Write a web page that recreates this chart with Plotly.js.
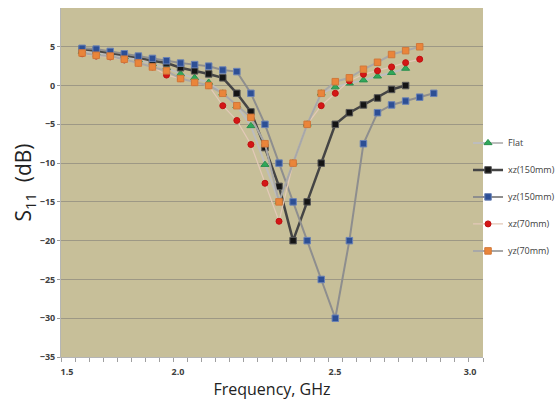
<!DOCTYPE html>
<html>
<head>
<meta charset="utf-8">
<script src="https://cdn.plot.ly/plotly-3.0.1.min.js"></script>
<style>html,body{margin:0;padding:0;background:#fff;}#chart{width:558px;height:402px;}</style>
</head>
<body>
<div id="chart"></div>
<script>
// Frequency points (GHz), one per measurement step
const freq = [1.55,1.60,1.65,1.70,1.75,1.80,1.85,1.90,1.95,2.00,2.05,2.10,2.15,2.20,2.25,2.30,2.35,2.40,2.45,2.50,2.55,2.60,2.65,2.70,2.75,2.80];

// S11 (dB) for each configuration
const flat     = [4.4,4.2,4.0,3.7,3.3,2.8,2.3,1.5,1.0,0.4,-1.0,-2.6,-5.2,-10.2,-15,-10,-5,-1.0,-0.2,0.3,0.7,1.2,1.65,2.2];
const xz150    = [4.7,4.5,4.2,3.9,3.6,3.2,2.9,2.3,1.9,1.5,1.0,-1.0,-3.4,-8.0,-13.0,-20,-15,-10,-5,-3.5,-2.5,-1.6,-0.5,0.0];
const yz150    = [4.8,4.7,4.4,4.1,3.8,3.5,3.2,2.9,2.7,2.5,2.0,1.8,-1.0,-5,-10,-15,-20,-25,-30,-20,-7.5,-3.5,-2.5,-2.0,-1.5,-1.0];
const xz70     = [4.1,3.8,3.7,3.3,2.9,2.4,1.35,0.9,0.4,0.0,-2.6,-4.5,-7.6,-12.6,-17.5,-10,-5,-2.6,-1.0,0.6,1.45,1.9,2.4,2.95,3.4];
const yz70     = [4.2,3.9,3.8,3.4,2.9,2.4,1.9,0.9,0.4,0.0,-1.0,-2.6,-4.1,-7.5,-15,-10,-5,-1.0,0.5,1.0,2.1,3.0,4.0,4.5,5.0];

const seriesNames = ['Flat','xz(150mm)','yz(150mm)','xz(70mm)','yz(70mm)'];

// Axis tick labels
const yTickVals = [-35,-30,-25,-20,-15,-10,-5,0,5];
const xTickText = ['1.5','2.0','2.5','3.0'];
const xTickVals = [1.496,1.891,2.449,2.929];

function tr(y, name, lineColor, lineWidth, mSymbol, mColor, mLine, mSize){
  return {
    x: freq.slice(0, y.length), y: y, name: name, type: 'scatter', mode: 'lines+markers',
    legendgroup: name,
    line: {color: lineColor, width: lineWidth},
    marker: {symbol: mSymbol, color: mColor, size: mSize, line: {color: mLine, width: 1}}
  };
}

const data = [
  tr(flat, seriesNames[0], '#bdbdbd', 2, 'triangle-up', '#2fa85a', '#2a8f4d', 7),
  tr(xz150, seriesNames[1], '#454545', 2.5, 'square', '#151515', '#555555', 6.5),
  tr(yz150, seriesNames[2], '#8e8e8e', 2, 'square', '#2d4f95', '#6a82b5', 6.5),
  tr(xz70, seriesNames[3], '#e3c9b8', 1.2, 'circle', '#d41616', '#c01010', 6),
  tr(yz70, seriesNames[4], '#a8a8a8', 2, 'square', '#ea853a', '#d0783a', 6.5)
];

const layout = {
  width: 558, height: 402,
  margin: {l: 61, r: 75, t: 8, b: 45, autoexpand: false},
  paper_bgcolor: '#ffffff',
  plot_bgcolor: '#c7bf99',
  font: {family: 'Open Sans, sans-serif', color: '#404040'},
  showlegend: true,
  legend: {
    x: 0.9645, xanchor: 'left', y: 0.655, yanchor: 'top',
    bgcolor: 'rgba(0,0,0,0)', font: {size: 9, color: '#404040'},
    tracegroupgap: 8, itemwidth: 30
  },
  xaxis: {
    range: [1.475, 2.975],
    tickmode: 'array', tickvals: xTickVals, ticktext: xTickText,
    ticks: '', ticklabelstandoff: 6,
    tickfont: {size: 9, color: '#404040', weight: 700},
    showgrid: false, zeroline: false,
    showline: true, linecolor: '#b5b5b5', linewidth: 1,
    minor: {tickmode: 'linear', tick0: 1.475, dtick: 0.05, ticks: 'outside', ticklen: 4, tickcolor: '#a0a0a0', showgrid: false},
    title: {text: 'Frequency, GHz', font: {size: 16, color: '#222'}, standoff: 6}
  },
  yaxis: {
    range: [-35, 10],
    tickmode: 'array', tickvals: yTickVals,
    ticks: 'outside', ticklen: 3, tickcolor: '#9a9a9a',
    tickfont: {size: 9, color: '#404040', weight: 700},
    showgrid: true, gridcolor: '#9d9885', gridwidth: 1,
    zeroline: false, showline: true, linecolor: '#b5b5b5', linewidth: 1,
    title: {text: 'S<sub>11</sub>  (dB)', font: {size: 21, color: '#222'}, standoff: 0}
  }
};

Plotly.newPlot('chart', data, layout, {displayModeBar: false, staticPlot: true});
</script>
</body>
</html>
